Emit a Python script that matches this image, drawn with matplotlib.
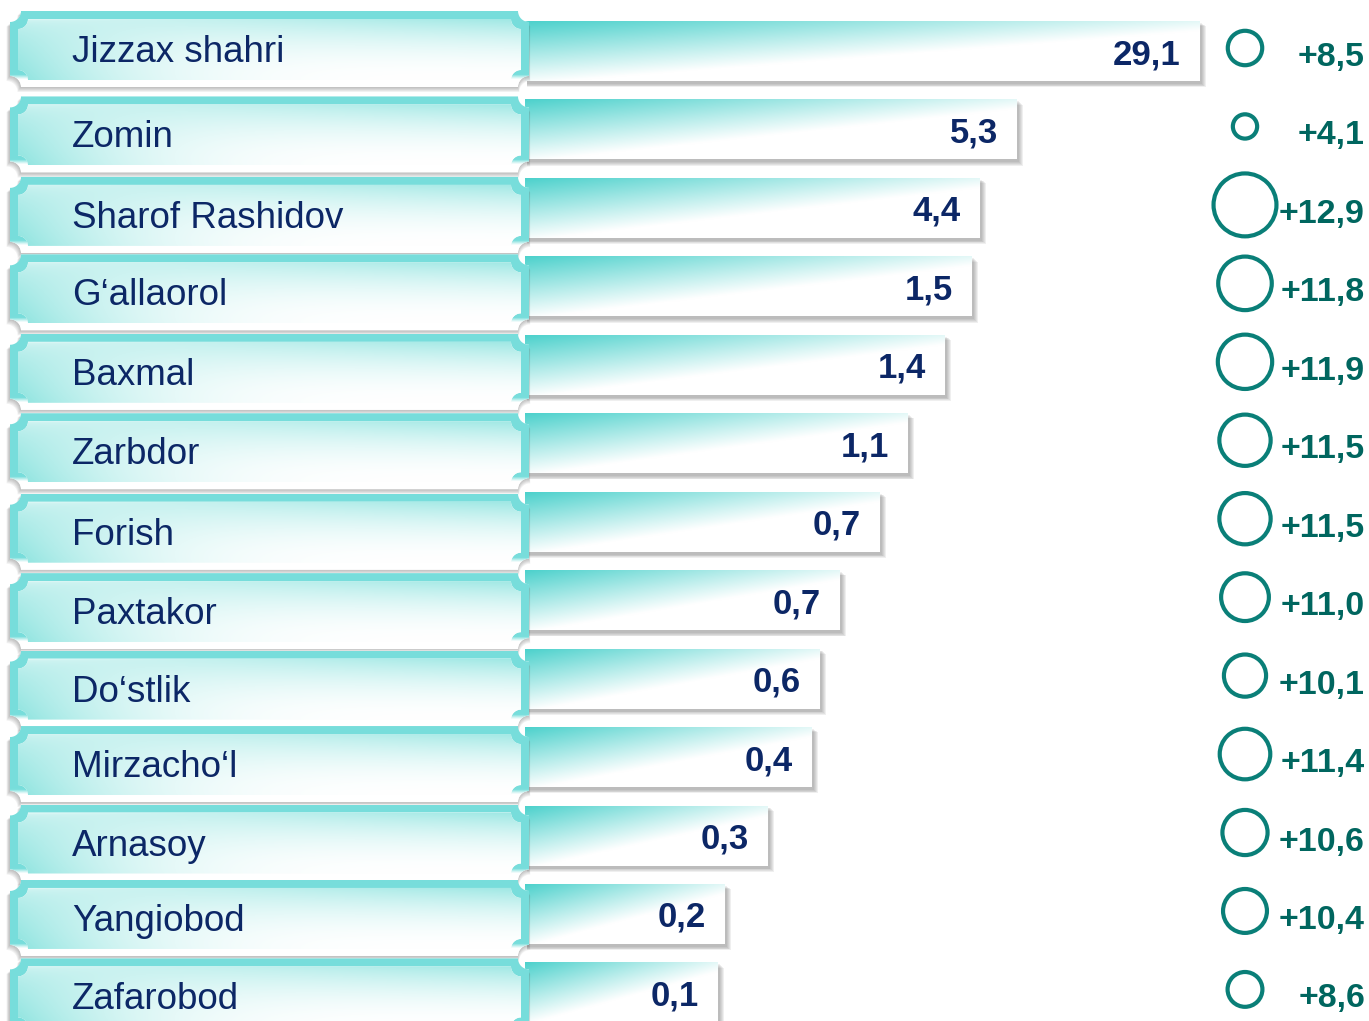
import numpy as np
import matplotlib.pyplot as plt
from matplotlib.path import Path
from matplotlib.patches import PathPatch, Rectangle

plt.rcParams['font.family'] = ['Liberation Sans', 'DejaVu Sans']

districts = ["Jizzax shahri", "Zomin", "Sharof Rashidov", "G‘allaorol", "Baxmal",
             "Zarbdor", "Forish", "Paxtakor", "Do‘stlik", "Mirzacho‘l",
             "Arnasoy", "Yangiobod", "Zafarobod"]
values = [29.1, 5.3, 4.4, 1.5, 1.4, 1.1, 0.7, 0.7, 0.6, 0.4, 0.3, 0.2, 0.1]
growth = [8.5, 4.1, 12.9, 11.8, 11.9, 11.5, 11.5, 11.0, 10.1, 11.4, 10.6, 10.4, 8.6]
# bar lengths as drawn in the original (decorative, not proportional to values)
bar_len = [675, 492, 455, 447, 420, 383, 355, 315, 295, 287, 243, 200, 193]

W, H = 1369, 1021
TEAL_BAR = np.array([0.30, 0.82, 0.80])
TEAL_BOX = np.array([0.50, 0.88, 0.86])
TEAL_RIM = np.array([0.47, 0.87, 0.86])
WHITE = np.array([1.0, 1.0, 1.0])
NAVY = '#0c2766'
RING = '#0a7f78'
GROWTH_C = '#00665f'

# label boxes sit slightly off the bar rows in the original
box_shift = [-2, 5, 7, 6, 7, 8, 10, 11, 10, 7, 7, 4, 4]

fig = plt.figure(figsize=(W / 100, H / 100), dpi=100)
ax = fig.add_axes([0, 0, 1, 1])
ax.axis('off')


def notched(x0, y0, x1, y1, r):
    # rectangle with concave corners, y grows downwards
    a = np.linspace(0, np.pi / 2, 12)
    pts = []
    pts += list(zip(x0 + r * np.sin(a), y0 + r * np.cos(a)))
    pts += list(zip(x1 - r * np.cos(a), y0 + r * np.sin(a)))
    pts += list(zip(x1 - r * np.sin(a), y1 - r * np.cos(a)))
    pts += list(zip(x0 + r * np.cos(a), y1 - r * np.sin(a)))
    pts.append(pts[0])
    codes = [Path.MOVETO] + [Path.LINETO] * (len(pts) - 2) + [Path.CLOSEPOLY]
    return Path(pts, codes)


def gradient(patch, extent, func, c0, c1, z):
    yy, xx = np.mgrid[0:1:64j, 0:1:256j]
    t = np.clip(func(xx, yy), 0, 1)[..., None]
    img = c0 * (1 - t) + c1 * t
    im = ax.imshow(img, extent=extent, aspect='auto', interpolation='bilinear', zorder=z)
    im.set_clip_path(patch)


def inner_fill(x, y):
    teal = 0.75 * (1 - y) ** 2 * (0.35 + 0.65 * x) + 0.9 * (1 - x) ** 4 * np.sqrt(y)
    return 1 - teal


bar_x0 = 525
box_x0, box_x1 = 10, 529

for i, name in enumerate(districts):
    yc = 51 + 78.45 * i

    # bar with soft shadow
    by0, by1 = yc - 30, yc + 30
    bx1 = bar_x0 + bar_len[i]
    for k in range(5):
        ax.add_patch(Rectangle((bar_x0 + 2, by0 + 2 + k * 0.8), bx1 - bar_x0 + k * 0.9,
                               by1 - by0 + 1, facecolor='#505050', edgecolor='none',
                               alpha=0.09, zorder=1))
    bar = Rectangle((bar_x0, by0), bx1 - bar_x0, by1 - by0, facecolor='white',
                    edgecolor='none', zorder=2)
    ax.add_patch(bar)
    gradient(bar, (bar_x0, bx1, by1, by0), lambda x, y: 0.95 * y + 0.85 * x,
             TEAL_BAR, WHITE, 2.1)
    ax.text(bx1 - 19, yc + 13, f"{values[i]:.1f}".replace('.', ','), ha='right',
            va='baseline', fontsize=25, fontweight='bold', color=NAVY, zorder=6)

    # label box
    bc = yc + box_shift[i]
    ty0, ty1 = bc - 38, bc + 38
    for k in range(5):
        sh = notched(box_x0 - 1 - k * 0.6, ty0 + 2 + k * 0.6, box_x1 + k * 0.3, ty1 + 1 + k, 11)
        ax.add_patch(PathPatch(sh, facecolor='#505050', edgecolor='none', alpha=0.08, zorder=3))
    outer = PathPatch(notched(box_x0, ty0, box_x1, ty1, 11), facecolor='white',
                      edgecolor='none', zorder=4)
    ax.add_patch(outer)
    gradient(outer, (box_x0, box_x1, ty1, ty0), lambda x, y: (y - 0.84) / 0.06,
             TEAL_RIM, WHITE, 4.1)
    inner = PathPatch(notched(box_x0 + 8, ty0 + 8, box_x1 - 8, ty1 - 7, 10),
                      facecolor='white', edgecolor='none', zorder=5)
    ax.add_patch(inner)
    gradient(inner, (box_x0 + 8, box_x1 - 8, ty1 - 7, ty0 + 8), inner_fill,
             TEAL_BOX, WHITE, 5.1)
    ax.text(72, bc + 13, name, ha='left', va='baseline', fontsize=26.5, color=NAVY, zorder=6)

    # growth circle and label
    r = 11.5 + 0.0093 * growth[i] ** 3
    ax.scatter([1245], [yc - 3], s=(1.44 * r) ** 2, facecolors='none', edgecolors=RING,
               linewidths=3, zorder=6)
    ax.text(1365, yc + 15, f"+{growth[i]:.1f}".replace('.', ','), ha='right', va='baseline',
            fontsize=24.5, fontweight='bold', color=GROWTH_C, zorder=6)

ax.set_xlim(0, W)
ax.set_ylim(H, 0)
fig.savefig('out.png', dpi=100)
